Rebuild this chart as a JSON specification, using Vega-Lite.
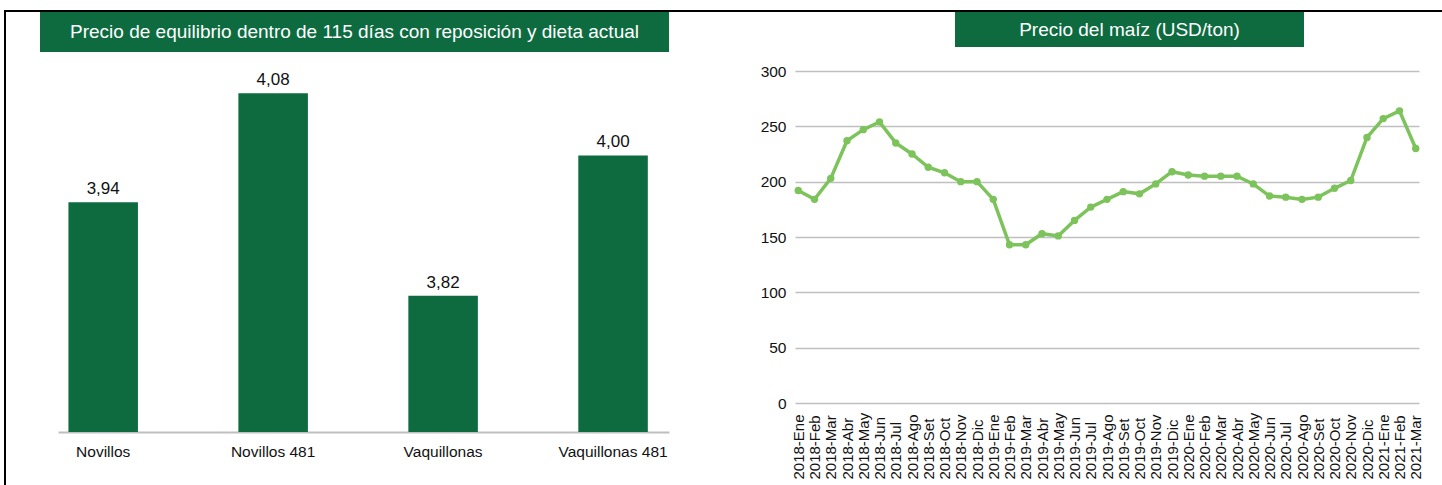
{
  "$schema": "https://vega.github.io/schema/vega-lite/v6.json",
  "padding": {"left": 4, "top": 10, "right": 0, "bottom": 0},
  "background": "white",
  "config": {
    "view": {"stroke": null},
    "font": "Liberation Sans",
    "locale": {"number": {"decimal": ",", "thousands": ".", "grouping": [3], "currency": ["$", ""]}}
  },
  "datasets": {
    "bars": [
      {"cat": "Novillos", "v": 3.94},
      {"cat": "Novillos 481", "v": 4.08},
      {"cat": "Vaquillonas", "v": 3.82},
      {"cat": "Vaquillonas 481", "v": 4.00}
    ],
    "maiz": [
      {"mes": "2018-Ene", "precio": 192},
      {"mes": "2018-Feb", "precio": 184},
      {"mes": "2018-Mar", "precio": 203},
      {"mes": "2018-Abr", "precio": 237},
      {"mes": "2018-May", "precio": 247},
      {"mes": "2018-Jun", "precio": 254},
      {"mes": "2018-Jul", "precio": 235},
      {"mes": "2018-Ago", "precio": 225},
      {"mes": "2018-Set", "precio": 213},
      {"mes": "2018-Oct", "precio": 208},
      {"mes": "2018-Nov", "precio": 200},
      {"mes": "2018-Dic", "precio": 200},
      {"mes": "2019-Ene", "precio": 184},
      {"mes": "2019-Feb", "precio": 143},
      {"mes": "2019-Mar", "precio": 143},
      {"mes": "2019-Abr", "precio": 153},
      {"mes": "2019-May", "precio": 151},
      {"mes": "2019-Jun", "precio": 165},
      {"mes": "2019-Jul", "precio": 177},
      {"mes": "2019-Ago", "precio": 184},
      {"mes": "2019-Set", "precio": 191},
      {"mes": "2019-Oct", "precio": 189},
      {"mes": "2019-Nov", "precio": 198},
      {"mes": "2019-Dic", "precio": 209},
      {"mes": "2020-Ene", "precio": 206},
      {"mes": "2020-Feb", "precio": 205},
      {"mes": "2020-Mar", "precio": 205},
      {"mes": "2020-Abr", "precio": 205},
      {"mes": "2020-May", "precio": 198},
      {"mes": "2020-Jun", "precio": 187},
      {"mes": "2020-Jul", "precio": 186},
      {"mes": "2020-Ago", "precio": 184},
      {"mes": "2020-Set", "precio": 186},
      {"mes": "2020-Oct", "precio": 194},
      {"mes": "2020-Nov", "precio": 201},
      {"mes": "2020-Dic", "precio": 240},
      {"mes": "2021-Ene", "precio": 257},
      {"mes": "2021-Feb", "precio": 264},
      {"mes": "2021-Mar", "precio": 230}
    ]
  },
  "spacing": 0,
  "vconcat": [
    {
      "width": 1438, "height": 2,
      "data": {"values": [{}]},
      "mark": {"type": "text", "text": "", "fontSize": 0},
      "view": {"fill": "#000000", "stroke": null}
    },
    {
      "spacing": 34,
      "hconcat": [
        {
          "width": 2, "height": 473,
          "data": {"values": [{}]},
          "mark": {"type": "text", "text": "", "fontSize": 0},
          "view": {"fill": "#000000", "stroke": null}
        },
        {
          "spacing": 91,
          "hconcat": [
            {
              "spacing": 10,
              "vconcat": [
                {
                  "width": 629, "height": 40,
                  "data": {"values": [{"t": "Precio de equilibrio dentro de 115 días con reposición y dieta actual"}]},
                  "mark": {"type": "text", "color": "#ffffff", "fontSize": 19},
                  "encoding": {"text": {"field": "t", "type": "nominal"}},
                  "view": {"fill": "#0E6B3F", "stroke": null}
                },
                {
                  "spacing": 0,
                  "hconcat": [
                    {
                      "width": 18, "height": 1,
                      "data": {"values": [{}]},
                      "mark": {"type": "text", "text": "", "fontSize": 0}
                    },
                    {
                      "width": 611, "height": 370,
                      "data": {"name": "bars"},
                      "encoding": {
                        "x": {
                          "field": "cat", "type": "nominal", "sort": null,
                          "scale": {"paddingInner": 0.591, "paddingOuter": 0.093, "align": 0.33},
                          "axis": {
                            "title": null, "labelAngle": 0, "domain": true, "domainColor": "#BFBFBF", "domainWidth": 2,
                            "ticks": false, "labelPadding": 12, "labelFontSize": 15.5, "labelColor": "#111111",
                            "labelBaseline": "top"
                          }
                        }
                      },
                      "layer": [
                        {
                          "mark": {"type": "bar", "color": "#0E6B3F"},
                          "encoding": {
                            "y": {
                              "field": "v", "type": "quantitative",
                              "scale": {"domain": [3.645, 4.12], "zero": false, "nice": false},
                              "axis": null
                            },
                            "y2": {"datum": 3.645}
                          }
                        },
                        {
                          "mark": {"type": "text", "baseline": "alphabetic", "dy": -8, "fontSize": 17, "color": "#111111"},
                          "encoding": {
                            "y": {"field": "v", "type": "quantitative"},
                            "text": {"field": "v", "type": "quantitative", "format": ".2f"}
                          }
                        }
                      ]
                    }
                  ]
                }
              ]
            },
            {
              "spacing": 17,
              "vconcat": [
                {
                  "spacing": 0,
                  "hconcat": [
                    {
                      "width": 160, "height": 1,
                      "data": {"values": [{}]},
                      "mark": {"type": "text", "text": "", "fontSize": 0}
                    },
                    {
                      "width": 349, "height": 35,
                      "data": {"values": [{"t": "Precio del maíz (USD/ton)"}]},
                      "mark": {"type": "text", "color": "#ffffff", "fontSize": 19},
                      "encoding": {"text": {"field": "t", "type": "nominal"}},
                      "view": {"fill": "#0E6B3F", "stroke": null}
                    }
                  ]
                },
                {
                  "width": 624, "height": 332,
                  "data": {"name": "maiz"},
                  "encoding": {
                    "x": {
                      "field": "mes", "type": "ordinal", "sort": null,
                      "scale": {"type": "point", "padding": 0.2},
                      "axis": {
                        "title": null, "labelAngle": -90, "labelAlign": "left", "labelBaseline": "middle",
                        "labelPadding": 76, "ticks": false, "domain": false, "grid": false, "labelOverlap": false,
                        "labelFontSize": 15, "labelColor": "#111111"
                      }
                    },
                    "y": {
                      "field": "precio", "type": "quantitative",
                      "scale": {"domain": [0, 300], "nice": false},
                      "axis": {
                        "title": null, "values": [0, 50, 100, 150, 200, 250, 300], "domain": false, "ticks": false,
                        "labelPadding": 9, "labelFontSize": 15.5, "labelColor": "#111111",
                        "gridColor": "#BFBFBF", "gridWidth": 1.5, "minExtent": 33, "maxExtent": 33
                      }
                    }
                  },
                  "layer": [
                    {"mark": {"type": "line", "color": "#7DC35B", "strokeWidth": 3.5}},
                    {"mark": {"type": "point", "filled": true, "color": "#7DC35B", "size": 55, "opacity": 1}}
                  ]
                }
              ]
            }
          ]
        }
      ]
    }
  ]
}
